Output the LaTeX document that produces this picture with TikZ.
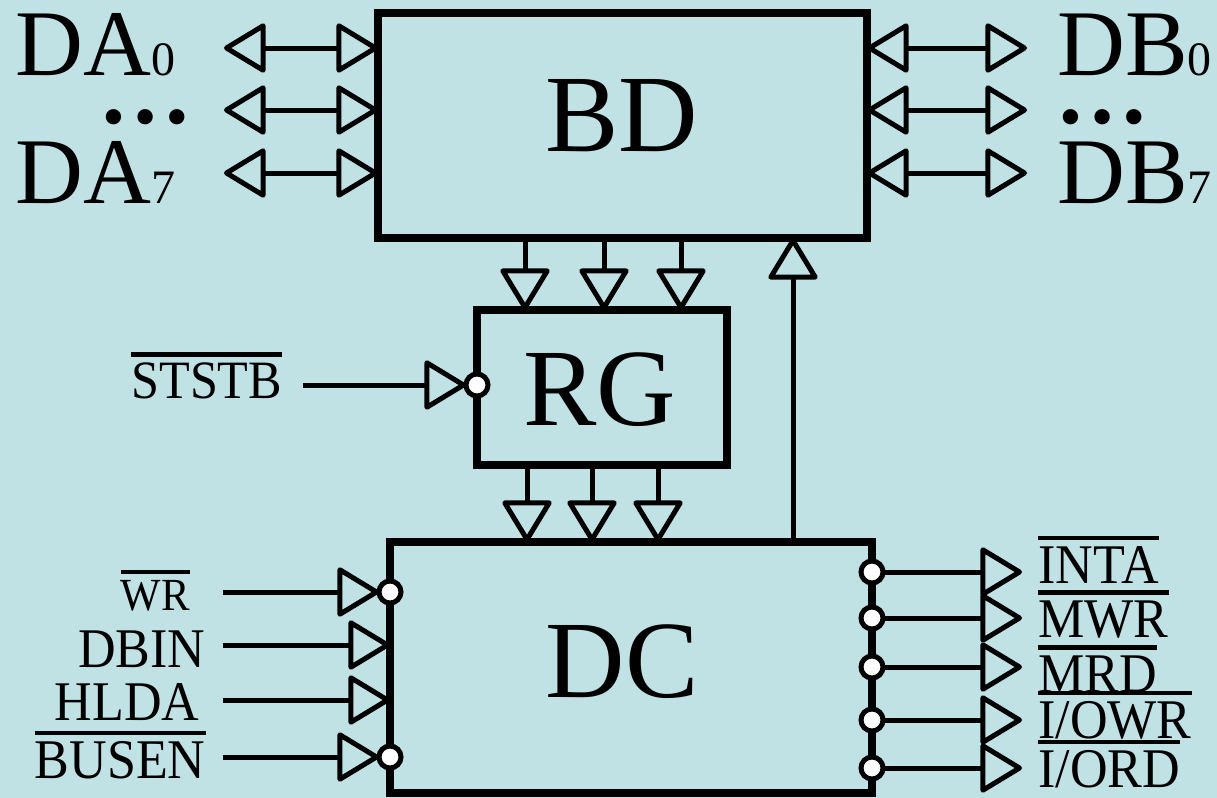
\documentclass[tikz,border=0pt]{standalone}
\usepackage{fontspec}
\setmainfont{Liberation Serif}
\newfontfamily\sigfamily[FakeStretch=0.93]{Liberation Serif}
\usetikzlibrary{arrows.meta}
\definecolor{panel}{RGB}{193,226,229}
\newcommand{\ovl}[1]{\vbox{\hrule height 2.2pt\kern 2.8pt\hbox{#1}}}
\newcommand{\dsub}[1]{{\fontsize{24}{26}\selectfont #1}}
\begin{document}
\begin{tikzpicture}[
    x=0.5pt,y=-0.5pt,
    head/.tip={Triangle[open,length=22pt,width=26pt,line join=round]},
    wire/.style={line width=2.5pt, -head},
    bus/.style={line width=2.5pt, head-head},
    box/.style={
        draw,
        line width=4pt,
        inner sep=0pt,
        outer sep=0pt
    },
    big/.style={font=\fontsize{55}{60}\selectfont},
    port/.style={font=\fontsize{47}{50}\selectfont, inner sep=0pt},
    sig/.style={font=\sigfamily\fontsize{28}{30}\selectfont, inner sep=0pt},
    bubble/.style={circle, draw, fill=white, line width=2.5pt, minimum size=11pt, inner sep=0pt, outer sep=0pt}
]
    \fill[panel] (0,0) rectangle (1217,798);
    \useasboundingbox (0,0) rectangle (1217,798);

    % blocks
    \node[box, minimum width=244.5pt, minimum height=112.5pt] (bd) at (622.5,125.5) {};
    \node[box, minimum width=125pt, minimum height=77.5pt] (rg) at (602,387.5) {};
    \node[box, minimum width=241pt, minimum height=125.5pt] (dc) at (631,667.5) {};
    \node[big] (bdname) at (622,116) {BD};
    \node[big] (rgname) at (600,390) {RG};
    \node[big] (dcname) at (622,662) {DC};

    % data buses
    \node[port, anchor=base west] (da0) at (15,75) {DA\dsub{0}};
    \node[port, anchor=base west] (dadots) at (98,123) {\bfseries\ldots};
    \node[port, anchor=base west] (da7) at (15,203) {DA\dsub{7}};
    \node[port, anchor=base west] (db0) at (1057,75) {DB\dsub{0}};
    \node[port, anchor=base west] (dbdots) at (1055,123) {\bfseries\ldots};
    \node[port, anchor=base west] (db7) at (1057,203) {DB\dsub{7}};
    \foreach \y/\n in {48/0,110/1,173/7} {
        \coordinate (pa\n) at (224,\y);
        \coordinate (pb\n) at (1027,\y);
        \draw[bus] (pa\n) -- (pa\n -| bd.west);
        \draw[bus] (pb\n -| bd.east) -- (pb\n);
    }

    % BD -> RG -> DC, DC -> BD
    \foreach \x in {525,604,681}
        \draw[wire] (\x,0 |- bd.south) -- (\x,0 |- rg.north);
    \foreach \x in {527,592,658}
        \draw[wire] (\x,0 |- rg.south) -- (\x,0 |- dc.north);
    \draw[wire] (793,0 |- dc.north) -- (793,0 |- bd.south);

    % strobe
    \node[sig, anchor=base west, font=\sigfamily\fontsize{27}{30}\selectfont] (ststb) at (131,398) {\ovl{STSTB}};
    \node[bubble] (stb) at (rg.west |- 0,385) {};
    \coordinate (stin) at (303,385);
    \draw[wire] (stin) -- (stb.west);

    % control inputs
    \node[sig, anchor=base east, font=\sigfamily\fontsize{23}{26}\selectfont] (wr) at (190,610) {\ovl{WR}};
    \node[sig, anchor=base east] (dbin) at (206,667) {DBIN};
    \node[sig, anchor=base east] (hlda) at (200,720) {HLDA};
    \node[sig, anchor=base east] (busen) at (206,778) {\ovl{BUSEN}};
    \node[bubble] (wrb) at (dc.west |- 0,592) {};
    \node[bubble] (busenb) at (dc.west |- 0,757) {};
    \coordinate (inwr) at (223,592);
    \coordinate (indbin) at (223,645);
    \coordinate (inhlda) at (223,700);
    \coordinate (inbusen) at (223,757);
    \draw[wire] (inwr) -- (wrb.west);
    \draw[wire] (indbin) -- (indbin -| dc.west);
    \draw[wire] (inhlda) -- (inhlda -| dc.west);
    \draw[wire] (inbusen) -- (busenb.west);

    % control outputs
    \foreach \y/\n/\t/\b in {572/inta/INTA/583, 618/mwr/MWR/637, 667/mrd/MRD/692, 720/iowr/{I/OWR}/738, 768/iord/{I/ORD}/787} {
        \node[bubble] (\n b) at (dc.east |- 0,\y) {};
        \coordinate (\n) at (1022,\y);
        \draw[wire] (\n b.east) -- (\n);
        \node[sig, anchor=base west] (\n lbl) at (1038,\b) {\ovl{\t}};
    }
\end{tikzpicture}
\end{document}
